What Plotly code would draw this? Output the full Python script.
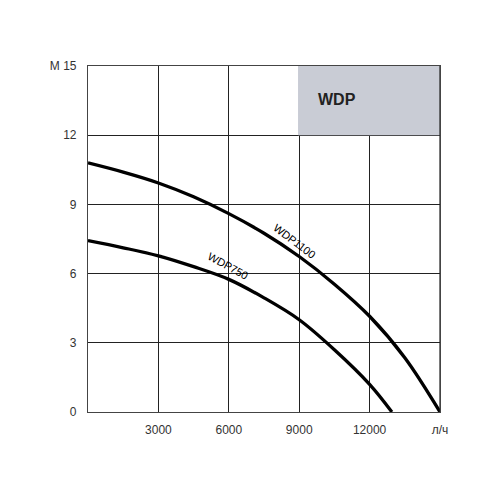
import plotly.graph_objects as go

flow_1100 = [0, 1500, 3000, 4500, 6000, 7500, 9000, 10500, 12000, 13500, 15000]
head_1100 = [10.8, 10.4, 9.93, 9.33, 8.6, 7.75, 6.74, 5.54, 4.15, 2.35, 0]
flow_750 = [0, 1500, 3000, 4500, 6000, 7500, 9000, 10500, 12000, 12950]
head_750 = [7.43, 7.12, 6.77, 6.3, 5.75, 4.95, 4.0, 2.7, 1.2, 0]

x_ticks = [3000, 6000, 9000, 12000, 15000]
x_labels = ["3000", "6000", "9000", "12000", "л/ч"]
y_ticks = [0, 3, 6, 9, 12, 15]
y_labels = ["0", "3", "6", "9", "12", "M 15"]

fig = go.Figure()
for fx, hy, name in [(flow_1100, head_1100, "WDP1100"), (flow_750, head_750, "WDP750")]:
    fig.add_trace(go.Scatter(x=fx, y=hy, mode="lines", name=name,
                             line=dict(color="black", width=3.3, shape="spline", smoothing=1.0),
                             showlegend=False, hoverinfo="skip"))

# curve labels
fig.add_annotation(x=8800, y=7.42, text="WDP1100", showarrow=False, textangle=37,
                   font=dict(family="Liberation Sans", size=11, color="black"))
fig.add_annotation(x=5980, y=6.33, text="WDP750", showarrow=False, textangle=29,
                   font=dict(family="Liberation Sans", size=11, color="black"))

# WDP box
fig.add_shape(type="rect", xref="x", yref="y", x0=8950, x1=15000, y0=12, y1=15,
              fillcolor="#c9ccd5", line=dict(width=0), layer="above")
fig.add_shape(type="line", xref="x", yref="y", x0=15000, x1=15000, y0=0, y1=15,
              line=dict(color="#222", width=1.2), layer="above")
fig.add_annotation(x=10600, y=13.55, text="<b>WDP</b>", showarrow=False,
                   font=dict(family="Liberation Sans Narrow, Liberation Sans", size=16, color="#222"))

fig.update_xaxes(range=[0, 15000], tickvals=x_ticks, ticktext=x_labels,
                 showgrid=True, gridcolor="#222", gridwidth=1,
                 showline=True, linecolor="#444", linewidth=1.2, mirror=True,
                 ticks="outside", ticklen=6, tickcolor="rgba(0,0,0,0)",
                 tickfont=dict(family="Liberation Sans", size=12, color="#333"),
                 zeroline=False, fixedrange=True)
fig.update_yaxes(range=[0, 15], tickvals=y_ticks, ticktext=y_labels,
                 showgrid=True, gridcolor="#222", gridwidth=1,
                 showline=True, linecolor="#444", linewidth=1.2, mirror=True,
                 ticks="outside", ticklen=8, tickcolor="rgba(0,0,0,0)",
                 tickfont=dict(family="Liberation Sans", size=12, color="#333"),
                 zeroline=False, fixedrange=True)

fig.update_layout(width=496, height=496, margin=dict(l=80, r=64, t=58, b=92),
                  paper_bgcolor="white", plot_bgcolor="white")
fig.write_html("out.html")
